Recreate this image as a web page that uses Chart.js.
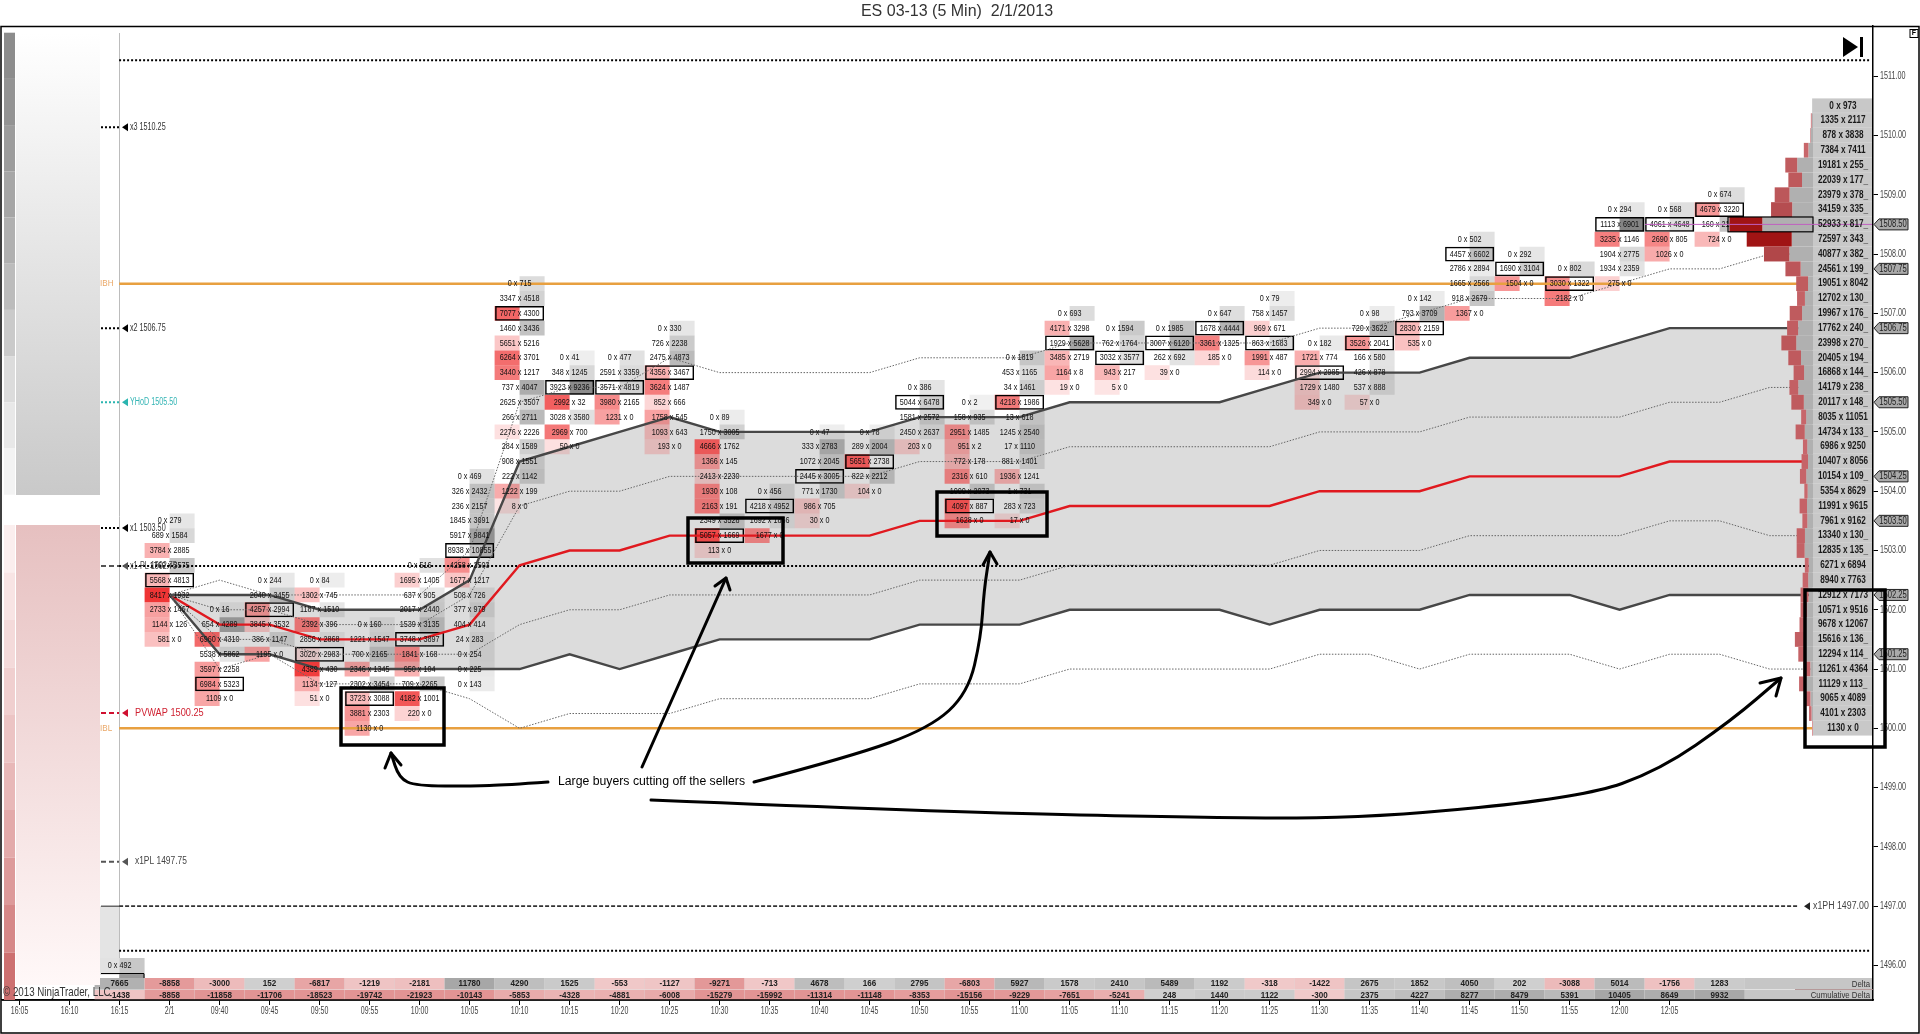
<!DOCTYPE html>
<html><head><meta charset="utf-8"><title>ES 03-13 (5 Min) 2/1/2013</title>
<style>html,body{margin:0;padding:0;background:#fff;overflow:hidden}canvas{display:block}</style>
<script src="https://cdn.jsdelivr.net/npm/chart.js@4"></script></head><body>
<canvas id="c" width="1920" height="1034"></canvas>
<script>
const categories=["16:05","16:10","16:15","2/1","09:40","09:45","09:50","09:55","10:00","10:05","10:10","10:15","10:20","10:25","10:30","10:35","10:40","10:45","10:50","10:55","11:00","11:05","11:10","11:15","11:20","11:25","11:30","11:35","11:40","11:45","11:50","11:55","12:00","12:05"];
const yTicks=[1496,1497,1498,1499,1500,1501,1502,1503,1504,1505,1506,1507,1508,1509,1510,1511];

// footprint: column index, top price of the column, bid / ask per row (0.25 apart), boxed row
const columnIndex=[2,3,4,5,6,7,8,9,10,11,12,13,14,15,16,17,18,19,20,21,22,23,24,25,26,27,28,29,30,31,32,33,34];
const columnTop=[1496,1503.5,1502,1502.5,1502.5,1501.75,1502.75,1504.25,1507.5,1506.25,1506.25,1506.75,1505.25,1504,1505,1505,1505.75,1505.5,1506.25,1507,1506.75,1506.75,1507,1507.25,1506.5,1507,1507.25,1508.25,1508,1507.75,1508.75,1508.75,1509];
const columnBoxed=[-1,4,5,2,5,5,5,5,2,2,2,3,8,1,3,2,1,7,3,2,2,1,1,3,2,2,2,1,1,1,1,1,1];
const columnBids=[
[0],
[0,689,3784,1760,5568,8417,2733,1144,581],
[0,654,6960,5538,3597,6984,1109],
[0,2040,4257,3845,386,1195],
[0,1302,1187,2392,2856,3020,4389,1134,51],
[0,1221,700,2346,2302,3723,3881,1130],
[0,1695,637,2017,1539,3748,1841,950,709,4182,220],
[0,326,236,1845,5917,8938,4258,1677,508,377,404,24,0,0,0],
[0,3347,7077,1460,5651,6264,3440,737,2625,266,2276,284,908,222,1222,8],
[0,348,3923,2992,3028,2969,50],
[0,2591,3571,3980,1231],
[0,726,2475,4356,3624,852,1758,1093,193],
[0,1750,4666,1366,2413,1930,2163,2349,5057,113],
[0,4218,1692,1677],
[0,333,1072,2445,771,986,30],
[0,289,5651,822,104],
[0,5044,1581,2450,203],
[0,158,2951,951,772,2316,1000,4097,1628],
[0,453,34,4218,13,1245,17,881,1936,1,283,17],
[0,4171,1929,3485,1164,19],
[0,762,3032,943,5],
[0,3007,262,39],
[0,1678,3361,185],
[0,758,969,863,1991,114],
[0,1721,2994,1729,349],
[0,720,3526,166,426,537,57],
[0,793,2830,535],
[0,4457,2786,1665,918,1367],
[0,1690,1504],
[0,3030,2182],
[0,1113,3235,1904,1934,275],
[0,4061,2690,1026],
[0,4679,160,724]];
const columnAsks=[
[492],
[279,1584,2885,3575,4813,1932,1467,126,0],
[16,4289,4310,5862,2258,5323,0],
[244,3455,2994,3532,1147,0],
[84,745,1510,396,2868,2983,430,127,0],
[160,1547,2165,1345,3454,3088,2303,0],
[516,1405,905,2440,3135,3897,168,104,2265,1001,0],
[469,2432,2157,3691,9841,10855,2503,1217,726,979,414,283,254,225,143],
[715,4518,4300,3436,5216,3701,1217,4047,3507,2711,2226,1589,1551,1142,199,0],
[41,1245,9236,32,3580,700,0],
[477,3359,4819,2165,0],
[330,2238,4873,3467,1487,666,545,643,0],
[89,3005,1762,145,2230,108,191,3528,1669,0],
[456,4952,1866,0],
[47,2783,2045,3005,1730,705,0],
[78,2004,2738,2212,0],
[386,6478,2572,2637,0],
[2,935,1485,2,178,610,2073,887,0],
[1819,1165,1461,1986,618,2540,1110,1401,1241,731,723,0],
[693,3298,5628,2719,8,0],
[1594,1764,3577,217,0],
[1985,6120,692,0],
[647,4444,1325,0],
[79,1457,671,1683,487,0],
[182,774,2985,1480,0],
[98,3622,2041,580,878,888,0],
[142,3709,2159,0],
[502,6602,2894,2566,2679,0],
[292,3104,0],
[802,1322,0],
[294,6901,1146,2775,2359,0],
[568,4648,805,0],
[674,3220,2100,0]];

// VWAP and deviation bands
const lineX=[3,4,5,6,7,8,9,10,11,12,13,14,15,16,17,18,19,20,21,22,23,24,25,26,27,28,29,30,31,32,33,34,35,35.85];
const vwap=[1502.25,1501.75,1501.75,1501.5,1501.5,1501.5,1501.75,1502.75,1503,1503,1503.25,1503.25,1503.25,1503.25,1503.25,1503.5,1503.5,1503.5,1503.75,1503.75,1503.75,1503.75,1503.75,1504,1504,1504,1504.25,1504.25,1504.25,1504.25,1504.5,1504.5,1504.5,1504.5];
const upper1=[1502.25,1502.25,1502.25,1502,1502,1502,1502.5,1504.5,1504.75,1505,1505.25,1505,1505,1505,1505,1505.25,1505.25,1505.25,1505.5,1505.5,1505.5,1505.5,1505.75,1506,1506,1506,1506.25,1506.25,1506.25,1506.5,1506.75,1506.75,1506.75,1506.75];
const lower1=[1502.25,1501.25,1501.25,1501,1501,1501,1501,1501,1501.25,1501,1501.25,1501.5,1501.5,1501.5,1501.5,1501.75,1501.75,1501.75,1502,1502,1502,1502,1501.75,1502,1502,1502,1502.25,1502.25,1502.25,1502,1502.25,1502.25,1502.25,1502.25];
const upperInner=[1502.25,1502,1502,1501.75,1501.75,1501.75,1502.25,1503.75,1504,1504,1504.25,1504.25,1504.25,1504.25,1504.25,1504.5,1504.5,1504.5,1504.75,1504.75,1504.75,1504.75,1504.75,1505,1505,1505,1505.25,1505.25,1505.25,1505.25,1505.5,1505.5,1505.75,1505.75];
const lowerInner=[1502.25,1501.5,1501.5,1501.25,1501.25,1501.25,1501.25,1501.75,1502,1502,1502.25,1502.25,1502.25,1502.25,1502.25,1502.5,1502.5,1502.5,1502.75,1502.75,1502.75,1502.75,1502.75,1503,1503,1503,1503.25,1503.25,1503.25,1503.25,1503.5,1503.5,1503.25,1503.25];
const upper2=[1502.25,1502.5,1502.25,1502.25,1502.25,1502.25,1503,1505.5,1505.75,1505.75,1506.25,1506,1506,1506,1506,1506.25,1506.25,1506.25,1506.5,1506.5,1506.5,1506.5,1506.5,1506.75,1506.75,1507,1507.25,1507.25,1507.25,1507.5,1507.75,1507.75,1508,1508];
const lower2=[1502.25,1501,1501.25,1500.75,1500.75,1500.75,1500.5,1500,1500.25,1500.25,1500.25,1500.5,1500.5,1500.5,1500.5,1500.75,1500.75,1500.75,1501,1501,1501,1501,1501,1501.25,1501.25,1501,1501.25,1501.25,1501.25,1501,1501.25,1501.25,1501,1501];

// delta rows, columns 16:15 .. last bar
const deltaRow=[7665,-8858,-3000,152,-6817,-1219,-2181,11780,4290,1525,-553,-1127,-9271,-713,4678,166,2795,-6803,5927,1578,2410,5489,1192,-318,-1422,2675,1852,4050,202,-3088,5014,-1756,1283];
const cumDeltaRow=[-1438,-8858,-11858,-11706,-18523,-19742,-21923,-10143,-5853,-4328,-4881,-6008,-15279,-15992,-11314,-11148,-8353,-15156,-9229,-7651,-5241,248,1440,1122,-300,2375,4227,8277,8479,5391,10405,8649,9932];

// session volume profile, top price 1510.50, one row per 0.25 down to 1500.00
const profileTop=1510.5;
const profileBid=[0,1335,878,7384,19181,22039,23979,34159,52933,72597,40877,24561,19051,12702,19967,17762,23998,20405,16868,14179,20117,8035,14734,6986,10407,10154,5354,11991,7961,13340,12835,6271,8940,12912,10571,9678,15616,12294,11261,11129,9065,4101,1130];
const profileAsk=[973,2117,3838,7411,25500,17700,37800,33500,81700,34300,38200,19900,8042,13000,17600,24000,27000,19400,14400,23800,14800,11051,13300,9250,8056,10900,8629,9615,9162,13000,13500,6894,7763,7173,9516,12067,13600,11400,4364,11300,4089,2303,0];
const profileAskText=["973","2117","3838","7411","255_","177_","378_","335_","817_","343_","382_","199_","8042","130_","176_","240_","270_","194_","144_","238_","148_","11051","133_","9250","8056","109_","8629","9615","9162","130_","135_","6894","7763","7173","9516","12067","136_","114_","4364","113_","4089","2303","0"];

// price tags on the axis and level labels at the left
const priceTags=[1508.5,1507.75,1506.75,1505.5,1504.25,1503.5,1502.25,1501.25];
const levelPrices=[1510.14,1506.75,1505.5,1503.38,1502.74,1500.26,1497.75];
const levelNames=["x3 1510.25","x2 1506.75","YHoD 1505.50","x1 1503.50","x1-PL 1502.75","PVWAP 1500.25","x1PL 1497.75"];
const levelColors=["#333","#333","#35b5b5","#333","#444","#cf2030","#444"];
const levelDash=["#000","#000","#2bb5b0","#000","#555","#d01030","#555"];
const levelTextX=[130,130,130,130,130,135,135];
const levelTextScale=[.72,.72,.72,.72,.72,.92,.84];

const x0=1.99, xEnd=35.85;
const redA=d=>Math.min(.95,.12+.82*Math.pow(Math.min(1,d/4200),.78));
const grayA=d=>Math.min(.95,.08+.6*Math.pow(Math.min(1,d/6000),.8));
const bidBars=[],askBars=[],boxBars=[],cellLabels=[];
columnIndex.forEach((col,k)=>{
  columnBids[k].forEach((b,r)=>{
    const a=columnAsks[k][r],p=columnTop[k]-r*.25,range=[p-.125,p+.125];
    if(b>a)bidBars.push({x:col-.25,y:range,color:`rgba(238,40,40,${redA(b-a)})`});
    if(a>b)askBars.push({x:col+.25,y:range,color:`rgba(70,70,70,${grayA(a-b)})`});
    if(columnBoxed[k]===r)boxBars.push({x:col,y:range});
    cellLabels.push({col,p,t:`${b} x ${a}`});
  });
});
const pts=arr=>arr.map((y,i)=>({x:lineX[i],y}));
const seg=(y,a,b)=>[{x:a===undefined?x0:a,y},{x:b===undefined?xEnd:b,y}];
const lineDs=(data,color,w,dash,order)=>({type:'line',data,borderColor:color,borderWidth:w,borderDash:dash||[],pointRadius:0,tension:0,fill:false,order:order||1});
const barDs=(data,w,extra)=>Object.assign({type:'bar',data,grouped:false,barPercentage:10,maxBarThickness:w,backgroundColor:c=>c.raw?c.raw.color:'transparent',borderSkipped:false,borderWidth:0,order:5},extra||{});

function txt(ctx,s,x,y,font,color,align,sx){ctx.save();ctx.translate(x,y);ctx.scale(sx||.78,1);ctx.font=font;ctx.fillStyle=color;ctx.textAlign=align||'center';ctx.textBaseline='middle';ctx.fillText(s,0,0);ctx.restore();}
function smooth(ctx,p,w){ctx.save();ctx.strokeStyle='#000';ctx.lineWidth=w;ctx.lineCap='round';ctx.lineJoin='round';ctx.beginPath();ctx.moveTo(p[0][0],p[0][1]);
  for(let i=1;i<p.length-1;i++){const mx=(p[i][0]+p[i+1][0])/2,my=(p[i][1]+p[i+1][1])/2;ctx.quadraticCurveTo(p[i][0],p[i][1],mx,my);}
  const l=p[p.length-1];ctx.lineTo(l[0],l[1]);ctx.stroke();ctx.restore();}
function head(ctx,tip,a,b){ctx.save();ctx.strokeStyle='#000';ctx.lineWidth=3;ctx.lineCap='round';ctx.lineJoin='round';ctx.beginPath();ctx.moveTo(a[0],a[1]);ctx.lineTo(tip[0],tip[1]);ctx.lineTo(b[0],b[1]);ctx.stroke();ctx.restore();}

const decor={id:'decor',
 beforeDatasetsDraw(ch){const c=ch.ctx;
  c.save();c.strokeStyle='#bcbcbc';c.lineWidth=1;c.beginPath();c.moveTo(119.5,33);c.lineTo(119.5,1000);c.stroke();
  c.fillStyle='#e4e4e4';c.fillRect(100,906,19,69);
  c.fillStyle='#e2e2e2';c.fillRect(94.5,958,50,16);c.fillStyle='#999';c.fillRect(119.5,974,25,6);
  c.strokeStyle='#000';c.beginPath();c.moveTo(101,973.5);c.lineTo(144,973.5);c.lineTo(144,980);c.stroke();
  c.restore();},
 afterDatasetsDraw(ch){const c=ch.ctx,X=ch.scales.x,Y=ch.scales.y;
  // axis labels
  X.ticks.forEach(t=>txt(c,categories[t.value],X.getPixelForValue(t.value),1011,'10px "Liberation Sans"','#444','center',.7));
  Y.ticks.forEach(t=>txt(c,t.value.toFixed(2),1880,Y.getPixelForValue(t.value),'10px "Liberation Sans"','#444','left',.72));
  // footprint text
  cellLabels.forEach(l=>txt(c,l.t,X.getPixelForValue(l.col),Y.getPixelForValue(l.p),'9.5px "Liberation Sans"','#111','center',.76));
  // volume profile
  const right=1813,k=.00062,rowH=14.82;
  c.save();c.fillStyle='#c8c8c8';
  c.fillRect(right,Y.getPixelForValue(profileTop)-rowH/2,59,profileBid.length*rowH);c.restore();
  const maxB=Math.max(...profileBid);
  profileBid.forEach((b,i)=>{const p=profileTop-i*.25,y=Y.getPixelForValue(p)-rowH/2,ag=profileAsk[i]*k,bg=b*k,t=b/maxB;
    c.fillStyle='#b0b0b0';c.fillRect(right-ag,y,ag,rowH);
    c.fillStyle=t>.65?'#a01414':`rgb(${Math.round(205-50*t)},${Math.round(110-70*t)},${Math.round(115-75*t)})`;c.fillRect(right-ag-bg,y,bg,rowH);
    c.fillStyle='rgba(255,255,255,.28)';c.fillRect(right,y+rowH-.6,59,.6);
  });
  {const y=Y.getPixelForValue(1508.5)-rowH/2;c.save();c.strokeStyle='#000';c.lineWidth=1.2;c.strokeRect(1728,y,85,rowH);c.restore();
   c.save();c.strokeStyle='#c060c0';c.lineWidth=1;c.beginPath();c.moveTo(1645,y+rowH/2);c.lineTo(1872,y+rowH/2);c.stroke();c.restore();}
  profileBid.forEach((b,i)=>txt(c,`${b} x ${profileAskText[i]}`,1843,Y.getPixelForValue(profileTop-i*.25),'bold 10px "Liberation Sans"','#1a1a1a','center',.82));
  // delta table
  const rowDraw=(arr,top,h)=>{c.fillStyle='#c6c6c6';c.fillRect(100,top,1772,h);
    arr.forEach((v,i)=>{const cx=X.getPixelForValue(i+2),t=Math.min(1,Math.abs(v)/10000);
      c.fillStyle='#fff';c.fillRect(cx-25,top,50,h);
      c.fillStyle=v<0?`rgba(205,70,70,${.28+.3*t})`:`rgba(120,120,120,${.35+.3*t})`;c.fillRect(cx-25,top,50,h);
      txt(c,String(v),cx,top+h/2,'bold 9.5px "Liberation Sans"','#222','center',.85);});};
  rowDraw(deltaRow,978,11.5);rowDraw(cumDeltaRow,990,10);
  txt(c,'Delta',1870,984,'9.5px "Liberation Sans"','#333','right',.82);
  txt(c,'Cumulative Delta',1870,995,'9.5px "Liberation Sans"','#333','right',.82);
  c.fillStyle='#a88';c.fillRect(1795,989,78,.8);
  c.save();c.strokeStyle='#000';c.lineWidth=1.5;c.beginPath();c.moveTo(2,1000);c.lineTo(1873,1000);c.stroke();c.restore();
  // left ladder
  const gCols=['#8c8c8c','#939393','#9c9c9c','#a6a6a6','#b0b0b0','#bcbcbc','#cacaca','#dcdcdc','#e8e8e8','#f3f3f3'];
  gCols.forEach((col,i)=>{c.fillStyle=col;c.fillRect(4,32.7+i*46.2,11,46.2);});
  let g=c.createLinearGradient(0,33,0,495);g.addColorStop(0,'#ffffff');g.addColorStop(1,'#c9c9c9');c.fillStyle=g;c.fillRect(16,33,84,462);
  const pCols=['#fbeeee','#f8e4e4','#f4dada','#f0cfcf','#ecc4c4','#e8b8b8','#e3aaaa','#dd9a9a','#d68888','#cd7070'];
  pCols.forEach((col,i)=>{c.fillStyle=col;c.fillRect(4,525+i*47.5,11,47.5);});
  g=c.createLinearGradient(0,525,0,985);g.addColorStop(0,'#e6c0c0');g.addColorStop(1,'#fff8f8');c.fillStyle=g;c.fillRect(16,525,84,460);
  // level markers
  levelPrices.forEach((p,i)=>{const y=Y.getPixelForValue(p);
    c.save();c.strokeStyle=levelDash[i];c.lineWidth=2;c.setLineDash(i>=4?[5,3]:[2,2]);c.beginPath();c.moveTo(101,y);c.lineTo(119,y);c.stroke();
    c.fillStyle=levelDash[i];c.beginPath();c.moveTo(122,y);c.lineTo(128,y-4);c.lineTo(128,y+4);c.fill();c.restore();
    txt(c,levelNames[i],levelTextX[i],y,'10px "Liberation Sans"',levelColors[i],'left',levelTextScale[i]);});
  txt(c,'IBH',100,Y.getPixelForValue(1507.5),'9.5px "Liberation Sans"','#eaa868','left',.85);
  txt(c,'IBL',100,Y.getPixelForValue(1500),'9.5px "Liberation Sans"','#eaa868','left',.85);
  c.save();c.fillStyle='#666';c.fillRect(101,905.5,18,1.5);c.restore();
  {const y=Y.getPixelForValue(1497);c.fillStyle='#222';c.beginPath();c.moveTo(1804,y);c.lineTo(1810,y-4);c.lineTo(1810,y+4);c.fill();
   txt(c,'x1PH 1497.00',1813,y,'10px "Liberation Sans"','#444','left',.88);}
  // axis price tags
  priceTags.forEach(p=>{const y=Y.getPixelForValue(p);c.save();c.fillStyle='#aaaaaa';c.strokeStyle='#222';c.lineWidth=1;c.beginPath();
    c.moveTo(1874,y);c.lineTo(1879,y-5.5);c.lineTo(1908,y-5.5);c.lineTo(1908,y+5.5);c.lineTo(1879,y+5.5);c.closePath();c.fill();c.stroke();c.restore();
    txt(c,p.toFixed(2),1893,y,'10px "Liberation Sans"','#222','center',.76);});
  // hand-drawn rectangles
  c.save();c.strokeStyle='#000';c.lineWidth=3.5;
  [[341,688,103,57],[688,518,95,45],[937,492,110,44],[1805,590,80,157]].forEach(r=>c.strokeRect(r[0],r[1],r[2],r[3]));c.restore();
  // hand-drawn arrows
  smooth(c,[[548,782],[505,785],[474,786],[416,786],[399,778],[391,753]],3);head(c,[391,753],[385,768],[401,765]);
  smooth(c,[[642,767],[726,578]],3);head(c,[726,578],[715,586],[730,590]);
  smooth(c,[[754,782],[850,757],[930,728],[968,693],[981,637],[984,590],[990,552]],3);head(c,[990,552],[983,565],[997,564]);
  smooth(c,[[651,800],[940,812],[1220,818],[1373,818],[1584,797],[1660,770],[1732,720],[1781,678]],3);head(c,[1781,678],[1760,683],[1776,696]);
  txt(c,'Large buyers cutting off the sellers',651.5,782,'12.5px "Liberation Sans"','#000','center',.98);
  // play icon, F box
  c.fillStyle='#000';c.beginPath();c.moveTo(1843,37);c.lineTo(1858,47);c.lineTo(1843,57);c.fill();c.fillRect(1860,37,3,20);
  c.save();c.strokeStyle='#000';c.lineWidth=1;c.strokeRect(1910,29.5,8,8);c.restore();
  txt(c,'F',1914,33.5,'bold 7px "Liberation Sans"','#000','center',1);
  // frame
  c.save();c.strokeStyle='#000';c.lineWidth=1.5;c.strokeRect(1,26.5,1918,1006.5);c.restore();
  txt(c,'© 2013 NinjaTrader, LLC',3,992,'13px "Liberation Sans"','#333','left',.75);
 }};

new Chart(document.getElementById('c'),{
 type:'bar',
 data:{datasets:[
  {type:'line',label:'band top',data:pts(upper1),borderWidth:0,pointRadius:0,tension:0,backgroundColor:'#dcdcdc',fill:'+1',order:20},
  {type:'line',label:'band bottom',data:pts(lower1),borderWidth:0,pointRadius:0,tension:0,fill:false,order:20},
  barDs(bidBars,25),
  barDs(askBars,25),
  barDs(boxBars,49,{backgroundColor:'transparent',borderColor:'#000',borderWidth:1.5,order:4}),
  lineDs(seg(1511.27,1.99,37),'#000',2,[2,2],3),
  lineDs(seg(1502.74,1.99,35.85),'#000',2,[2,2],3),
  lineDs(seg(1496.25,1.99,37),'#000',2,[2,2],3),
  lineDs(seg(1497,1.99,35.55),'#333',1.8,[4,2],3),
  lineDs(seg(1507.5),'#e8a040',2.5,null,3),
  lineDs(seg(1500),'#e8a040',2.5,null,3),
  lineDs(pts(upper2),'#666',1,[1.5,1.5]),
  lineDs(pts(lower2),'#666',1,[1.5,1.5]),
  lineDs(pts(upperInner),'#666',1,[1.5,1.5]),
  lineDs(pts(lowerInner),'#666',1,[1.5,1.5]),
  lineDs(pts(upper1),'#474747',2.4),
  lineDs(pts(lower1),'#474747',2.4),
  lineDs(pts(vwap),'#e0191f',2.4)
 ]},
 options:{responsive:false,animation:false,events:[],devicePixelRatio:1,
  layout:{padding:{left:2,right:8,top:0,bottom:0}},
  plugins:{legend:{display:false},tooltip:{enabled:false},
   title:{display:true,text:'ES 03-13 (5 Min)  2/1/2013',color:'#333',font:{family:'"Liberation Sans"',size:16,weight:'normal'},padding:{top:2,bottom:5}}},
  scales:{
   x:{type:'linear',offset:false,min:-0.352,max:37.068,
    grid:{offset:false,display:true,drawOnChartArea:false,drawTicks:true,tickLength:5,color:'#000'},
    border:{display:true,color:'#000',width:1.5},
    afterBuildTicks:s=>{s.ticks=categories.map((_,i)=>({value:i}));},
    afterFit:s=>{s.height=34;},
    ticks:{display:false,autoSkip:false,maxRotation:0,minRotation:0}},
   y:{type:'linear',position:'right',min:1495.418,max:1511.843,
    grid:{display:true,drawOnChartArea:false,drawTicks:true,tickLength:5,color:'#000'},
    border:{display:true,color:'#000',width:1.5},
    afterBuildTicks:s=>{s.ticks=yTicks.map(v=>({value:v}));},
    afterFit:s=>{s.width=39;},
    ticks:{display:false}}
  }},
 plugins:[decor]
});
</script></body></html>
